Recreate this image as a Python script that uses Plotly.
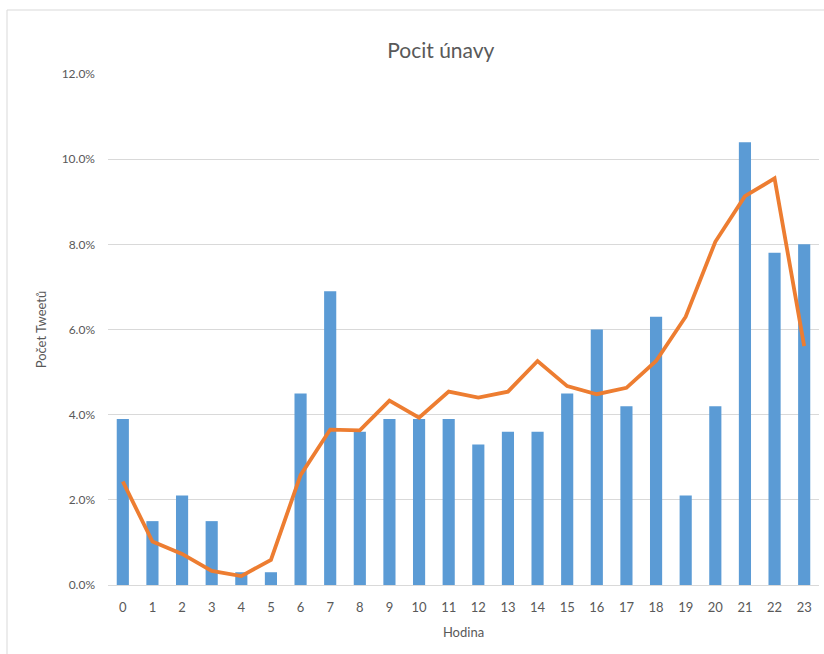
import plotly.graph_objects as go

hours = [str(h) for h in range(24)]
bar_values = [3.9, 1.5, 2.1, 1.5, 0.3, 0.3, 4.5, 6.9, 3.6, 3.9, 3.9, 3.9,
              3.3, 3.6, 3.6, 4.5, 6.0, 4.2, 6.3, 2.1, 4.2, 10.4, 7.8, 8.0]
line_values = [2.43, 1.02, 0.73, 0.33, 0.21, 0.59, 2.58, 3.65, 3.63, 4.33, 3.93, 4.54,
               4.40, 4.54, 5.26, 4.67, 4.48, 4.63, 5.26, 6.30, 8.06, 9.13, 9.55, 5.61]
y_ticks = [0, 2, 4, 6, 8, 10, 12]
y_tick_labels = ["0.0%", "2.0%", "4.0%", "6.0%", "8.0%", "10.0%", "12.0%"]

FONT = "Liberation Sans Narrow, Lato, sans-serif"
GREY = "#595959"

fig = go.Figure()
fig.add_trace(go.Bar(x=hours, y=bar_values, marker=dict(color="#5B9BD5", line=dict(width=0)),
                     width=0.41, showlegend=False))
fig.add_trace(go.Scatter(x=hours, y=line_values, mode="lines",
                         line=dict(color="#ED7D31", width=3.8), showlegend=False))

fig.update_layout(
    width=824, height=654,
    margin=dict(l=108, r=5, t=74, b=69),
    paper_bgcolor="white", plot_bgcolor="white",
    font=dict(family=FONT, color=GREY, size=12),
    title=dict(text="Pocit únavy", x=0.535, xanchor="center", y=0.922, yanchor="middle",
               font=dict(family=FONT, size=21, color=GREY)),
    xaxis=dict(type="category", showgrid=False, showline=True, linecolor="#D9D9D9", linewidth=1,
               ticks="", ticklabelstandoff=10, tickfont=dict(size=13, color=GREY),
               title=dict(text="Hodina", font=dict(size=13, color=GREY), standoff=14)),
    yaxis=dict(range=[0, 12], tickvals=y_ticks, ticktext=y_tick_labels,
               showgrid=True, gridcolor="#D9D9D9", gridwidth=1, zeroline=False,
               ticks="", ticklabelstandoff=12, tickfont=dict(size=12, color=GREY),
               title=dict(text="Počet Tweetů", font=dict(size=13, color=GREY), standoff=12)),
    shapes=[dict(type="rect", xref="paper", yref="paper",
                 x0=(7 - 108) / 711, x1=(830 - 108) / 711,
                 y0=(585 - 660) / 511, y1=(585 - 10) / 511,
                 line=dict(color="#D9D9D9", width=1), fillcolor="rgba(0,0,0,0)", layer="below")],
)

fig.write_html("out.html", config={"displayModeBar": False},
               post_script="document.body.style.margin='0';document.body.style.overflow='hidden';")
